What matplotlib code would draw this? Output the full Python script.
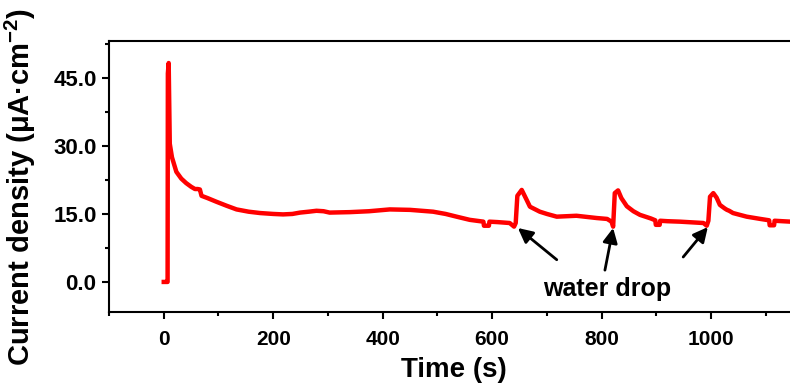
import matplotlib
matplotlib.use('Agg')
import matplotlib.pyplot as plt
from matplotlib.ticker import MultipleLocator, FormatStrFormatter

plt.rcParams['font.family'] = ['Liberation Sans', 'DejaVu Sans']
plt.rcParams['font.weight'] = 'bold'
plt.rcParams['mathtext.fontset'] = 'custom'
plt.rcParams['mathtext.rm'] = 'Liberation Sans:bold'
plt.rcParams['mathtext.default'] = 'rm'

# Data
time = [0, 5, 7, 7.5, 9, 11, 15, 23, 32, 41, 50, 57, 62, 66, 69, 80, 96, 115,
        133, 155, 176, 200, 218, 235, 249, 265, 279, 292, 303, 340, 375, 413,
        450, 492, 515, 535, 559, 584, 585, 594, 595, 610, 632, 640, 643, 646,
        654, 663, 669, 687, 700, 718, 754, 791, 810, 818, 821, 824, 830, 836,
        846, 858, 870, 890, 898, 899, 906, 907, 920, 943, 986, 992, 995, 998,
        1004, 1010, 1016, 1025, 1029, 1033, 1040, 1065, 1090, 1106, 1107, 1115,
        1116, 1130, 1160]
current = [0.0, 0.0, 0.0, 46.0, 48.3, 30.5, 27.5, 24.3, 22.8, 21.8, 21.0, 20.5,
           20.5, 20.4, 19.0, 18.5, 17.7, 16.8, 16.0, 15.5, 15.2, 15.0, 14.9,
           15.0, 15.3, 15.5, 15.7, 15.6, 15.3, 15.4, 15.6, 16.0, 15.9, 15.5,
           15.0, 14.4, 13.7, 13.3, 12.4, 12.4, 13.3, 13.2, 13.0, 12.2, 13.0,
           19.0, 20.3, 18.1, 16.6, 15.5, 15.0, 14.4, 14.6, 14.1, 13.9, 13.3,
           12.2, 19.6, 20.2, 18.5, 16.7, 15.6, 14.8, 14.0, 13.6, 12.6, 12.6,
           13.5, 13.4, 13.3, 13.0, 12.4, 13.5, 18.8, 19.6, 18.6, 17.0, 16.2,
           15.9, 15.7, 15.2, 14.4, 13.9, 13.6, 12.5, 12.5, 13.5, 13.4, 13.2]

label_text = 'water drop'
label_pos = (810, -1.5)
arrow_tails = [(718, 4.9), (806, 2.6), (949, 5.5)]
arrow_heads = [(647, 11.9), (821, 11.9), (994, 12.1)]

fig = plt.figure(figsize=(7.9, 3.85), dpi=100)
ax = fig.add_axes([0.138, 0.19, 0.873, 0.704])

ax.plot(time, current, color=(1, 0, 0), lw=3.2, solid_joinstyle='round')

for tail, head in zip(arrow_tails, arrow_heads):
    ax.annotate('', xy=head, xytext=tail,
                arrowprops=dict(arrowstyle='-|>', color='black', lw=2,
                                mutation_scale=22, shrinkA=0, shrinkB=0))
ax.text(*label_pos, label_text, fontsize=18, fontweight='bold',
        ha='center', va='center')

ax.set_xlim(-100, 1160)
ax.set_ylim(-6.6, 53.2)
ax.xaxis.set_major_locator(MultipleLocator(200))
ax.xaxis.set_minor_locator(MultipleLocator(100))
ax.yaxis.set_major_locator(MultipleLocator(15))
ax.yaxis.set_minor_locator(MultipleLocator(7.5))
ax.yaxis.set_major_formatter(FormatStrFormatter('%.1f'))

for s in ax.spines.values():
    s.set_linewidth(1.5)
ax.tick_params(which='major', length=5, width=1.5)
ax.tick_params(which='minor', length=3, width=1.5)
ax.tick_params(axis='x', which='major', labelsize=15, pad=8)
ax.tick_params(axis='y', which='major', labelsize=16, pad=4)

ax.set_xlabel('Time (s)', fontsize=20, fontweight='bold', labelpad=6)
ax.set_ylabel(r'Current density (μA·cm$^{-2}$)', fontsize=21,
              fontweight='bold')
ax.yaxis.set_label_coords(-0.103, 0.46)

fig.savefig('out.png', dpi=100)
